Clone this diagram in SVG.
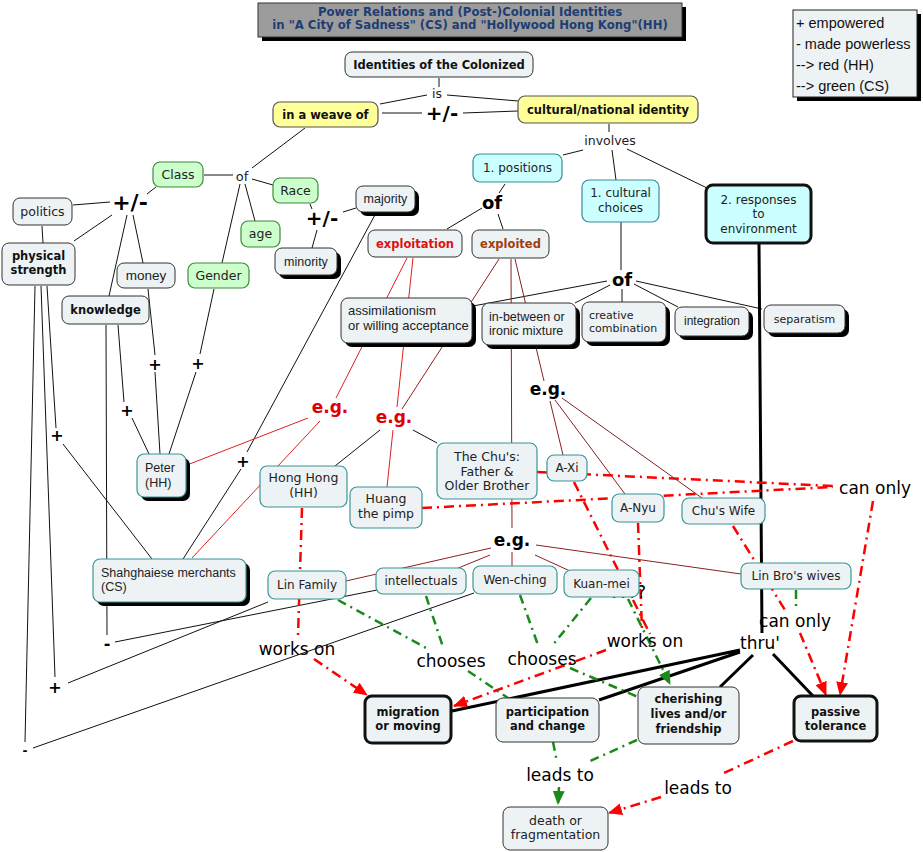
<svg xmlns="http://www.w3.org/2000/svg" width="923" height="852" viewBox="0 0 923 852">
<style>
.bg{fill:#fff}
.n{fill:#edf2f5;stroke:#333;stroke-width:1}
.t{fill:#edf2f5;stroke:#3a9696;stroke-width:1.2}
.c{fill:#ccffff;stroke:#3a8a9a;stroke-width:1.2}
.g{fill:#ccffcc;stroke:#3c8c3c;stroke-width:1.2}
.y{fill:#ffff99;stroke:#555;stroke-width:1.2}
.th{fill:#edf2f5;stroke:#111;stroke-width:3}
.sh{fill:#000}
.l{stroke:#111;stroke-width:1;fill:none}
.r{stroke:#e02020;stroke-width:1;fill:none}
.m{stroke:#8b2020;stroke-width:1;fill:none}
.rd{stroke:#ff0000;stroke-width:2.5;stroke-dasharray:10 5 2 5;fill:none}
.gd{stroke:#1a8a1a;stroke-width:2.5;stroke-dasharray:9 5 2 5;fill:none}
.k{stroke:#000;stroke-width:3;fill:none}
text{font-family:"DejaVu Sans",Verdana,sans-serif;fill:#222}
.d{font-size:12.5px;text-anchor:middle}
.a{font-family:"Liberation Sans",Arial,sans-serif;font-size:12.5px}
.b{font-size:11.5px;font-weight:bold;text-anchor:middle;fill:#111}
.lab{font-size:17px;fill:#000;text-anchor:middle}
.sm{font-size:12.5px;fill:#222;text-anchor:middle}
.pm{font-size:20px;font-weight:bold;fill:#000;text-anchor:middle}
.pl{font-size:16px;font-weight:bold;fill:#000;text-anchor:middle}
.eg{font-size:17px;font-weight:bold;text-anchor:middle}
.tt{font-size:11.7px;font-weight:bold;fill:#1c3e73;text-anchor:middle}
.lg{font-family:"Liberation Sans",Arial,sans-serif;font-size:14.5px;fill:#111}
</style>
<defs>
<marker id="ar" markerWidth="14" markerHeight="12" refX="13" refY="6" orient="auto" markerUnits="userSpaceOnUse"><path d="M0,0 L14,6 L0,12 z" fill="#ff0000"/></marker>
<marker id="ag" markerWidth="14" markerHeight="12" refX="13" refY="6" orient="auto" markerUnits="userSpaceOnUse"><path d="M0,0 L14,6 L0,12 z" fill="#1a8a1a"/></marker>
</defs>
<rect class="bg" x="0" y="0" width="923" height="852"/>

<g id="connectors">
<path class="l" d="M439,78 L439,87 M380,104 L427,95 M447,95 L518,101 M382,113 L422,113 M463,113 L518,111"/>
<path class="l" d="M609,124 L609,132 M583,150 L563,155 M612,150 L616,180 M627,149 L707,188"/>
<path class="l" d="M505,184 L499,193 M482,208 L447,229 M498,214 L503,229"/>
<path class="l" d="M621,222 L621,270 M607,281 L473,306 M610,285 L575,303 M622,289 L622,302 M634,284 L678,307 M636,281 L762,309"/>
<path class="l" d="M305,128 L252,168 M204,175 L233,175 M252,179 L273,185 M245,184 L255,221 M240,184 L222,263 M147,194 L156,187"/>
<path class="l" d="M73,205 L110,202 M74,241 L112,215 M42,226 L43,243 M127,215 L109,296 M133,215 L143,263"/>
<path class="l" d="M310,204 L312,209 M343,212 L356,208 M317,230 L312,248"/>
<path class="l" d="M376,213 L247,452 M241,469 L183,559"/>
<path class="l" d="M47,286 L56,428 M63,444 L152,559"/>
<path class="l" d="M41,286 L55,677 M68,683 L268,602"/>
<path class="l" d="M35,286 L25,742 M33,748 L474,593"/>
<path class="l" d="M106,325 L107,635 M115,642 L377,590"/>
<path class="l" d="M118,325 L124,402 M132,418 L149,454"/>
<path class="l" d="M148,289 L155,355 M155,372 L160,454"/>
<path class="l" d="M214,289 L200,354 M196,372 L169,454"/>
<path class="r" d="M407,258 L336,398 M413,258 L397,407"/>
<path class="m" d="M499,259 L402,409 M511,259 L512,528 M515,259 L544,381"/>
<path class="r" d="M308,418 L187,465 M320,421 L192,558"/>
<path class="l" d="M380,430 L335,466 M413,430 L437,443"/>
<path class="r" d="M393,430 L387,487"/>
<path class="m" d="M550,401 L563,455 M555,400 L625,494 M562,398 L702,498"/>
<path class="m" d="M491,548 L346,581 M490,555 L456,569 M512,552 L512,566 M535,555 L570,571 M536,545 L741,574"/>
<path class="k" d="M759,243 L762,633 M740,650 L452,711 M740,652 L599,700 M753,655 L720,687 M773,654 L813,696"/>
<path class="rd" d="M302,508 L298,636"/>
<path class="rd" marker-end="url(#ar)" d="M314,659 L367,695"/>
<path class="rd" d="M422,508 L833,487 M537,472 L833,486"/>
<path class="rd" d="M574,482 L650,634 M638,523 L642,630"/>
<path class="rd" marker-end="url(#ar)" d="M606,650 L454,706"/>
<path class="rd" d="M733,526 L785,610"/>
<path class="rd" marker-end="url(#ar)" d="M800,633 L826,695"/>
<path class="rd" marker-end="url(#ar)" d="M873,501 L840,695"/>
<path class="rd" d="M793,741 L724,773"/>
<path class="rd" marker-end="url(#ar)" d="M661,797 L609,813"/>
<path class="gd" d="M338,600 L428,649 M426,596 L443,647 M468,671 L508,698"/>
<path class="gd" d="M520,595 L538,645 M591,598 L552,646 M570,668 L638,697"/>
<path class="gd" marker-end="url(#ag)" d="M628,599 L670,684"/>
<path class="gd" d="M796,590 L796,606"/>
<path class="gd" d="M553,742 L557,762 M637,740 L588,762"/>
<path class="gd" marker-end="url(#ag)" d="M559,787 L558,804"/>
</g>

<g id="labels">
<text class="sm" x="437" y="98">is</text>
<text class="pm" x="442" y="120">+/-</text>
<text class="sm" x="610" y="145">involves</text>
<text class="sm" x="242" y="181" style="font-size:13px">of</text>
<text class="pm" x="130" y="210" style="font-size:22px">+/-</text>
<text class="pm" x="322" y="225">+/-</text>
<text class="pm" x="492" y="209" style="font-size:18px">of</text>
<text class="pm" x="622" y="286" style="font-size:18px">of</text>
<text class="eg" x="330" y="413" style="fill:#e00000">e.g.</text>
<text class="eg" x="394" y="423" style="fill:#e00000">e.g.</text>
<text class="eg" x="548" y="395" style="fill:#000">e.g.</text>
<text class="eg" x="512" y="546" style="fill:#000">e.g.</text>
<text class="pl" x="57" y="441">+</text>
<text class="pl" x="127" y="416">+</text>
<text class="pl" x="155" y="370">+</text>
<text class="pl" x="198" y="369">+</text>
<text class="pl" x="243" y="467">+</text>
<text class="pl" x="55" y="693">+</text>
<text class="pl" x="107" y="649">-</text>
<text class="pl" x="25" y="755" style="font-size:12px">-</text>
<text class="lab" x="297" y="655">works on</text>
<text class="lab" x="451" y="667">chooses</text>
<text class="lab" x="542" y="665">chooses</text>
<text class="lab" x="645" y="647">works on</text>
<text class="lab" x="610" y="598" style="text-anchor:start">????</text>
<text class="lab" x="795" y="627">can only</text>
<text class="lab" x="760" y="649">thru'</text>
<text class="lab" x="875" y="494">can only</text>
<text class="lab" x="560" y="781">leads to</text>
<text class="lab" x="698" y="794">leads to</text>
</g>

<g id="title">
<rect class="sh" x="262" y="7" width="424" height="34"/>
<rect x="258" y="3" width="424" height="34" fill="#9c9c9c" stroke="#333"/>
<text class="tt" x="470" y="16">Power Relations and (Post-)Colonial Identities</text>
<text class="tt" x="470" y="29">in "A City of Sadness" (CS) and "Hollywood Hong Kong"(HH)</text>
</g>
<g id="legend">
<rect class="sh" x="797" y="14" width="124" height="87"/>
<rect x="793" y="10" width="124" height="87" fill="#edf2f5" stroke="#222"/>
<text class="lg" x="796" y="28">+ empowered</text>
<text class="lg" x="796" y="49">- made powerless</text>
<text class="lg" x="796" y="70">--&gt; red (HH)</text>
<text class="lg" x="796" y="91">--&gt; green (CS)</text>
</g>

<g id="identities"><rect class="n" x="345" y="52" width="188" height="25" rx="7"/><text class="b" x="439" y="69">Identities of the Colonized</text></g>
<g id="weave"><rect class="y" x="273" y="102" width="105" height="25" rx="7"/><text class="b" x="325.5" y="119">in a weave of</text></g>
<g id="cultural"><rect class="y" x="518" y="96" width="180" height="27" rx="7"/><text class="b" x="608" y="114">cultural/national identity</text></g>
<g id="positions"><rect class="c" x="473" y="154" width="89" height="28" rx="7"/><text class="d" x="517.5" y="172" style="font-size:12px">1. positions</text></g>
<g id="choices"><rect class="c" x="582" y="180" width="77" height="42" rx="7"/><text class="d" x="620.5" y="197" style="font-size:12px">1. cultural</text><text class="d" x="620.5" y="212" style="font-size:12px">choices</text></g>
<g id="responses"><rect x="706" y="185" width="105" height="58" rx="7" fill="#ccffff" stroke="#111" stroke-width="3"/><text class="d" x="758.5" y="204" style="font-size:12px">2. responses</text><text class="d" x="758.5" y="218" style="font-size:12px">to</text><text class="d" x="758.5" y="233" style="font-size:12px">environment</text></g>

<g id="class"><rect class="g" x="153" y="162" width="50" height="25" rx="7"/><text class="d" x="178" y="179">Class</text></g>
<g id="race"><rect class="g" x="273" y="178" width="45" height="25" rx="7"/><text class="d" x="295.5" y="195">Race</text></g>
<g id="age"><rect class="g" x="241" y="221" width="39" height="26" rx="7"/><text class="d" x="260.5" y="238">age</text></g>
<g id="gender"><rect class="g" x="188" y="263" width="61" height="25" rx="7"/><text class="d" x="218.5" y="280">Gender</text></g>
<g id="politics"><rect class="n" x="13" y="198" width="59" height="27" rx="7"/><text class="d" x="42.5" y="216">politics</text></g>
<g id="physical"><rect class="n" x="2" y="243" width="73" height="42" rx="7"/><text class="b" x="38.5" y="260">physical</text><text class="b" x="38.5" y="274">strength</text></g>
<g id="money"><rect class="n" x="117" y="263" width="58" height="25" rx="7"/><text class="a" x="146" y="280" style="text-anchor:middle;font-size:13.5px">money</text></g>
<g id="knowledge"><rect class="n" x="62" y="296" width="87" height="28" rx="7"/><text class="b" x="105.5" y="314">knowledge</text></g>
<g id="majority"><rect class="sh" x="360" y="190" width="59" height="26" rx="7"/><rect class="n" x="356" y="186" width="59" height="26" rx="7"/><text class="a" x="385.5" y="203" style="text-anchor:middle">majority</text></g>
<g id="minority"><rect class="sh" x="279" y="252" width="62" height="27" rx="7"/><rect class="n" x="275" y="248" width="62" height="27" rx="7"/><text class="a" x="306" y="266" style="text-anchor:middle">minority</text></g>
<g id="exploitation"><rect class="n" x="368" y="230" width="94" height="27" rx="7"/><text class="b" x="415" y="248" style="fill:#dd1111">exploitation</text></g>
<g id="exploited"><rect class="n" x="472" y="230" width="77" height="28" rx="7"/><text class="b" x="510.5" y="248" style="fill:#a0400a">exploited</text></g>
<g id="assimilationism"><rect class="sh" x="345" y="302" width="131" height="45" rx="7"/><rect class="n" x="341" y="298" width="131" height="45" rx="7"/><text class="a" x="348" y="315" style="font-size:13px">assimilationism</text><text class="a" x="348" y="330" style="font-size:13px">or willing acceptance</text></g>
<g id="inbetween"><rect class="sh" x="486" y="307" width="94" height="42" rx="7"/><rect class="n" x="482" y="303" width="94" height="42" rx="7"/><text class="a" x="489" y="321">in-between or</text><text class="a" x="489" y="335">ironic mixture</text></g>
<g id="creative"><rect class="sh" x="586" y="306" width="84" height="40" rx="7"/><rect class="n" x="582" y="302" width="84" height="40" rx="7"/><text x="589" y="319" style="font-size:11px">creative</text><text x="589" y="332" style="font-size:11px">combination</text></g>
<g id="integration"><rect class="sh" x="679" y="311" width="74" height="29" rx="7"/><rect class="n" x="675" y="307" width="74" height="29" rx="7"/><text class="a" x="712" y="325" style="text-anchor:middle;font-size:12px">integration</text></g>
<g id="separatism"><rect class="sh" x="768" y="309" width="81" height="28" rx="7"/><rect class="n" x="764" y="305" width="81" height="28" rx="7"/><text x="804.5" y="323" style="font-size:11px;text-anchor:middle">separatism</text></g>

<g id="peter"><rect class="sh" x="141" y="458" width="49" height="43" rx="7"/><rect class="t" x="137" y="454" width="49" height="43" rx="7"/><text class="a" x="145" y="472">Peter</text><text class="a" x="145" y="487">(HH)</text></g>
<g id="honghong"><rect class="t" x="260" y="466" width="87" height="41" rx="7"/><text class="d" x="303.5" y="482">Hong Hong</text><text class="d" x="303.5" y="497">(HH)</text></g>
<g id="huang"><rect class="t" x="350" y="487" width="72" height="41" rx="7"/><text class="d" x="386" y="503">Huang</text><text class="d" x="386" y="518">the pimp</text></g>
<g id="chus"><rect class="t" x="437" y="443" width="100" height="56" rx="7"/><text class="d" x="487" y="461">The Chu's:</text><text class="d" x="487" y="476">Father &amp;</text><text class="d" x="487" y="490">Older Brother</text></g>
<g id="axi"><rect class="t" x="547" y="455" width="40" height="26" rx="7"/><text class="d" x="567" y="472" style="font-size:12px">A-Xi</text></g>
<g id="anyu"><rect class="t" x="612" y="494" width="52" height="28" rx="7"/><text class="d" x="638" y="512" style="font-size:12px">A-Nyu</text></g>
<g id="chuswife"><rect class="t" x="682" y="498" width="83" height="26" rx="7"/><text class="d" x="723.5" y="515" style="font-size:12px">Chu's Wife</text></g>
<g id="linbros"><rect class="t" x="741" y="563" width="110" height="26" rx="7"/><text class="d" x="796" y="580" style="font-size:12px">Lin Bro's wives</text></g>
<g id="kuanmei"><rect class="t" x="564" y="570" width="75" height="27" rx="7"/><text class="d" x="601.5" y="588" style="font-size:12px">Kuan-mei</text></g>
<g id="wenching"><rect class="t" x="473" y="566" width="84" height="28" rx="7"/><text class="d" x="515" y="584" style="font-size:12px">Wen-ching</text></g>
<g id="intellectuals"><rect class="t" x="376" y="568" width="90" height="26" rx="7"/><text class="d" x="421" y="585" style="font-size:12px">intellectuals</text></g>
<g id="linfamily"><rect class="t" x="268" y="571" width="78" height="28" rx="7"/><text class="d" x="307" y="589" style="font-size:12px">Lin Family</text></g>
<g id="merchants"><rect class="sh" x="97" y="563" width="153" height="43" rx="7"/><rect class="t" x="93" y="559" width="153" height="43" rx="7"/><text class="a" x="101" y="577">Shahghaiese merchants</text><text class="a" x="101" y="591">(CS)</text></g>

<g id="migration"><rect class="th" x="365" y="696" width="86" height="47" rx="7"/><text class="b" x="408" y="716">migration</text><text class="b" x="408" y="730">or moving</text></g>
<g id="participation"><rect class="n" x="496" y="698" width="103" height="44" rx="7"/><text class="b" x="547.5" y="716">participation</text><text class="b" x="547.5" y="730">and change</text></g>
<g id="cherishing"><rect class="n" x="638" y="687" width="101" height="57" rx="7"/><text class="b" x="688.5" y="703">cherishing</text><text class="b" x="688.5" y="718">lives and/or</text><text class="b" x="688.5" y="733">friendship</text></g>
<g id="passive"><rect class="th" x="794" y="696" width="83" height="45" rx="7"/><text class="b" x="835.5" y="716">passive</text><text class="b" x="835.5" y="730">tolerance</text></g>
<g id="death"><rect class="n" x="503" y="807" width="105" height="43" rx="7"/><text class="d" x="555.5" y="825">death or</text><text class="d" x="555.5" y="839">fragmentation</text></g>
</svg>
